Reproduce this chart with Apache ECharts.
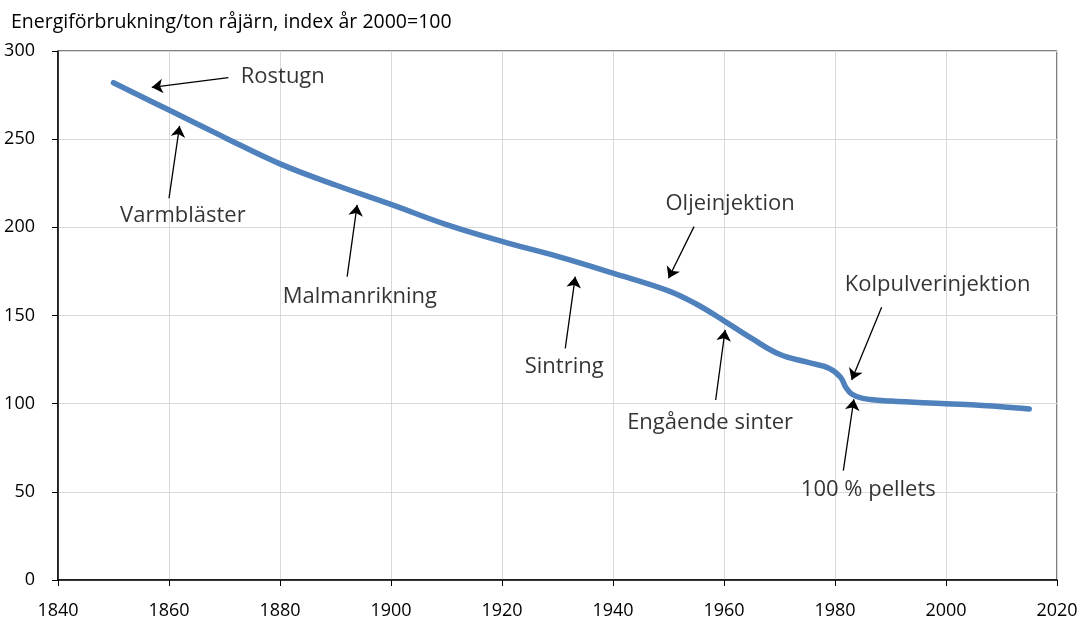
<!DOCTYPE html>
<html>
<head>
<meta charset="utf-8">
<script src="https://cdn.jsdelivr.net/npm/echarts@6/dist/echarts.min.js"></script>
<style>
  html, body { margin: 0; padding: 0; background: #fff; }
  #chart { width: 1083px; height: 619px; }
</style>
</head>
<body>
<div id="chart"></div>
<script>
// data
const years = [1850, 1860, 1870, 1880, 1890, 1900, 1910, 1920, 1930, 1940, 1950, 1955, 1960, 1965, 1970, 1975, 1979, 1981, 1982, 1983, 1985, 1990, 2000, 2010, 2015];
const energyIndex = [282, 266.5, 251, 236, 224, 213, 201.5, 192, 183.5, 174, 164, 156.5, 147, 137, 128, 123.5, 120, 115, 109, 105.5, 103, 101.5, 100, 98.3, 97];

// annotations: label text, label position, arrow start, arrow tip (year, index)
const noteNames = ['Rostugn', 'Varmbläster', 'Malmanrikning', 'Sintring', 'Oljeinjektion', 'Engående sinter', 'Kolpulverinjektion', '100 % pellets'];
const noteText = [[1880.5, 285.4], [1862.5, 206.4], [1894.4, 160.7], [1931.2, 121], [1961.1, 213.2], [1957.5, 89.2], [1998.5, 167.3], [1986, 51.4]];
const arrowFrom = [[1870.7, 284.9], [1860, 216.5], [1892.1, 172], [1931.4, 131.4], [1954.6, 200.4], [1958.5, 102.1], [1988.4, 154.7], [1981.5, 62]];
const arrowTo = [[1856.9, 279.4], [1861.9, 257.5], [1893.9, 212.7], [1933.2, 172], [1950, 171.1], [1960.2, 141.8], [1983, 113.4], [1983.4, 102.5]];

const FONT = 'Open Sans';

let chart = echarts.init(document.getElementById('chart'));

let option = {
    animation: false,
    title: {
        text: 'Energiförbrukning/ton råjärn, index år 2000=100',
        left: 6,
        top: 7,
        textStyle: { fontFamily: FONT, fontSize: 19.5, fontWeight: 'normal', color: '#000' }
    },
    grid: {
        left: 58, right: 26, top: 51, bottom: 39,
        outerBoundsMode: 'none', // låt inte v6 krympa ritytan
        show: true, borderColor: '#000', borderWidth: 1
    },
    xAxis: {
        type: 'value',
        min: 1840,
        max: 2020,
        interval: 20,
        axisLine: { lineStyle: { color: '#000', width: 1.5 } },
        axisTick: { show: true, length: 6, lineStyle: { color: '#000' } },
        axisLabel: { margin: 22, fontFamily: FONT, fontSize: 18, color: '#000', formatter: v => String(v) },
        splitLine: { show: true, lineStyle: { color: '#d9d9d9', width: 1 } }
    },
    yAxis: {
        type: 'value',
        min: 0,
        max: 300,
        interval: 50,
        axisLine: { show: true, lineStyle: { color: '#000', width: 1.5 } },
        axisTick: { show: true, length: 6, lineStyle: { color: '#000' } },
        axisLabel: { margin: 23, fontFamily: FONT, fontSize: 18, color: '#000' },
        splitLine: { show: true, lineStyle: { color: '#d9d9d9', width: 1 } }
    },
    series: [
        {
            name: 'index',
            type: 'line',
            smooth: 0.4,
            showSymbol: false,
            lineStyle: { color: '#4f81bd', width: 5.5, cap: 'round' },
            data: years.map((y, i) => [y, energyIndex[i]]),
            z: 3
        },
        {
            // pilar till kurvan
            type: 'lines',
            coordinateSystem: 'cartesian2d',
            symbol: ['none', 'arrow'],
            symbolSize: 11,
            lineStyle: { color: '#000', width: 1.3, opacity: 1, curveness: 0 },
            data: arrowFrom.map((p, i) => ({ coords: [p, arrowTo[i]] })),
            z: 4
        },
        {
            // texter
            type: 'scatter',
            symbolSize: 1,
            itemStyle: { color: 'transparent' },
            label: {
                show: true,
                position: 'inside',
                formatter: p => p.value[2],
                fontFamily: FONT,
                fontSize: 22,
                color: '#000'
            },
            data: noteText.map((p, i) => [p[0], p[1], noteNames[i]]),
            z: 5
        }
    ]
};

chart.setOption(option);
</script>
</body>
</html>
